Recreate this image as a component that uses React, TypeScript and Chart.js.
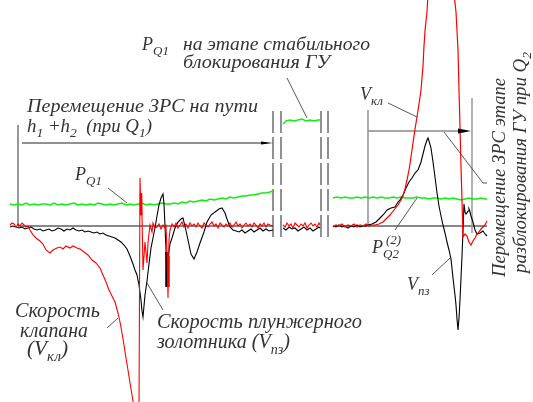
import React, { useEffect, useRef } from "react";
import { Chart, registerables } from "chart.js";
Chart.register(...registerables);

// time (x) vs. signal (y, 0 = rest level)
type Pt = [number, number];

const greenLeft: Pt[] = [[10,22],[14,21],[18,22],[22,21],[26,23],[30,21],[34,22],[38,21],[42,22],[46,22],[50,21],[54,23],[58,21],[62,22],[66,21],[70,22],[74,23],[78,21],[82,22],[86,21],[90,22],[94,21],[98,23],[102,22],[106,21],[110,22],[114,21],[118,22],[122,23],[126,21],[130,22],[134,21],[138,22],[142,23],[146,21],[150,22],[154,21],[158,22],[162,23],[166,22],[170,22],[174,23],[178,22],[182,24],[186,23],[190,25],[194,24],[198,25],[202,26],[206,25],[210,27],[214,26],[218,27],[222,28],[226,27],[230,29],[234,28],[238,29],[242,30],[246,30],[250,31],[254,31],[258,32],[262,33],[266,33],[270,34],[273,35]];
const greenMid: Pt[] = [[283,102],[286,105],[290,106],[294,105],[298,106],[302,107],[306,105],[310,106],[314,105],[318,106],[320,106]];
const greenRight: Pt[] = [[333,28],[337,29],[341,28],[345,29],[349,28],[353,28],[357,29],[361,28],[365,29],[369,28],[373,29],[377,28],[381,29],[385,28],[389,28],[393,29],[397,28],[401,29],[405,28],[409,28],[413,28],[417,29],[421,28],[425,28],[429,27],[433,28],[437,28],[441,27],[445,28],[449,27],[453,28],[457,27],[461,26],[465,27],[469,28],[473,27],[477,27],[481,28],[485,27],[487,27]];

const redLeft: Pt[] = [[10,1],[12,3],[14,2],[16,-1],[18,2],[20,0],[22,3],[24,1],[26,-1],[28,0],[30,-4],[33,-9],[36,-12],[40,-15],[43,-18],[46,-24],[50,-27],[53,-24],[57,-22],[60,-21],[63,-23],[66,-20],[70,-22],[73,-20],[77,-22],[80,-23],[84,-26],[88,-29],[92,-34],[96,-37],[100,-42],[103,-49],[106,-56],[109,-64],[112,-70],[115,-76],[118,-87],[120,-96],[122,-107],[124,-119],[126,-132],[128,-144],[130,-157],[132,-169],[134,-182],[139,-186],[140,48],[141,11],[141.5,33],[142,11],[143,-44],[145,-16],[147,-37],[148,-17],[150,1],[152,-6],[153,3],[155,-2],[157,-1],[159,2],[161,-3],[163,1],[165,-2],[166,0],[167,-25],[168,-72],[169,-14],[170,-4],[172,2],[174,-1],[176,3],[178,-2],[180,1],[182,4],[184,-1],[186,2],[188,-2],[190,3],[192,0],[194,2],[196,-1],[198,3],[200,0],[202,-2],[204,3],[206,1],[208,-1],[210,2],[212,4],[214,0],[216,2],[218,-2],[220,3],[222,1],[224,-1],[226,2],[228,0],[230,3],[232,-1],[234,1],[236,4],[238,0],[240,2],[242,-2],[244,1],[246,3],[248,0],[250,2],[252,-1],[254,3],[256,1],[258,-2],[260,2],[262,0],[264,3],[266,-1],[268,2],[270,1],[273,0]];
const blackLeft: Pt[] = [[10,-1],[13,0],[16,-1],[19,-2],[22,-1],[25,-3],[28,-2],[31,-1],[34,-3],[37,-4],[40,-3],[43,-5],[46,-4],[49,-3],[52,-5],[55,-4],[58,-2],[61,-3],[64,-5],[67,-3],[70,-4],[73,-2],[76,-4],[79,-5],[82,-4],[85,-6],[88,-5],[91,-6],[94,-7],[97,-6],[100,-8],[103,-7],[106,-9],[109,-10],[112,-11],[115,-12],[118,-14],[121,-16],[124,-19],[127,-23],[130,-30],[133,-38],[135,-44],[137,-49],[139,-59],[141,-74],[142,-85],[143,-91],[144,-80],[145,-69],[147,-55],[149,-38],[151,-22],[153,-12],[155,-2],[157,10],[159,21],[161,28],[163,32],[164,22],[165,0],[166,-24],[167,-55],[168,-32],[170,-18],[172,-12],[175,-2],[178,4],[181,7],[183,8],[185,0],[188,-14],[191,-28],[194,-33],[197,-26],[200,-17],[204,-6],[207,4],[211,11],[215,14],[219,17],[222,18],[225,13],[227,7],[230,-1],[233,-4],[236,-5],[239,-6],[242,-4],[245,-7],[248,-5],[251,-3],[254,-6],[257,-4],[260,-2],[263,-5],[266,-3],[269,-5],[273,-4]];
const redMid: Pt[] = [[283,1],[285,-1],[287,3],[289,0],[291,2],[293,-2],[295,3],[297,1],[299,-1],[301,2],[303,0],[305,3],[307,-2],[309,1],[311,3],[313,0],[315,2],[317,-1],[319,3],[320,1]];
const blackMid: Pt[] = [[283,-2],[286,-4],[289,-1],[292,-3],[295,-2],[298,-5],[301,-3],[304,-1],[307,-4],[310,-2],[313,-5],[316,-3],[319,-1],[320,-2]];
const redRight: Pt[] = [[333,-1],[336,1],[339,0],[342,2],[345,-1],[348,1],[351,0],[354,2],[357,-1],[360,1],[363,0],[366,2],[369,0],[372,1],[375,1],[379,2],[383,4],[386,7],[390,11],[394,16],[398,21],[401,26],[403,30],[405,37],[407,46],[409,56],[411,69],[413,83],[415,97],[417,109],[419,122],[421,136],[422,148],[423,160],[424,180],[425,195],[426,205],[427,214],[428,232],[454,232],[456,214],[458,176],[459,136],[460,99],[461,59],[462,26],[463,-11],[465,-8],[467,-10],[469,-16],[471,-19],[473,-15],[475,-12],[477,-8],[479,-6],[481,-3],[483,-1],[485,1],[487,5]];
const blackRight: Pt[] = [[333,0],[336,-1],[339,1],[342,-1],[345,0],[348,-2],[351,0],[354,-1],[357,1],[360,-1],[363,0],[366,0],[368,1],[372,2],[376,4],[380,8],[384,12],[387,16],[391,18],[395,19],[398,24],[400,26],[403,31],[406,38],[409,44],[412,48],[415,53],[418,56],[421,64],[423,72],[425,80],[427,86],[428,88],[429,85],[431,78],[433,64],[435,49],[437,33],[439,20],[441,10],[443,1],[445,-7],[447,-16],[449,-24],[451,-33],[453,-52],[455,-69],[456,-79],[457,-93],[458,-104],[459,-92],[460,-74],[461,-52],[462,-30],[463,-5],[464,22],[465,14],[466,12],[467,13],[468,15],[469,17],[470,14],[471,10],[473,4],[475,-4],[477,-8],[480,-7],[483,-5],[485,-8],[487,-10]];
const redThickA: Pt[] = [[141,33],[141,11]];
const redThickB: Pt[] = [[168.5,-30],[168.5,-61]];
const blackThick: Pt[] = [[166.5,-26],[166.5,-61]];

const T_MIN = 0, T_MAX = 533, V_MIN = -176, V_MAX = 226;

type Run = { t: string; sub?: boolean; sup?: boolean };
const FONT = '"Liberation Serif", serif';

function runsWidth(ctx: CanvasRenderingContext2D, runs: Run[], size: number) {
  let w = 0;
  for (const r of runs) {
    const s = Math.round(r.sub || r.sup ? size * 0.72 : size);
    ctx.font = `italic ${s}px ${FONT}`;
    w += ctx.measureText(r.t).width;
  }
  return w;
}

function drawRuns(ctx: CanvasRenderingContext2D, runs: Run[], x: number, y: number, size: number, width?: number, angle?: number) {
  ctx.save();
  ctx.translate(x, y);
  if (angle) ctx.rotate(angle);
  const nat = runsWidth(ctx, runs, size);
  const sx = width ? width / nat : 1;
  ctx.scale(sx, 1);
  ctx.fillStyle = "#333";
  ctx.textBaseline = "alphabetic";
  ctx.textAlign = "left";
  let cx = 0;
  for (const r of runs) {
    const s = Math.round(r.sub || r.sup ? size * 0.72 : size);
    ctx.font = `italic ${s}px ${FONT}`;
    const dy = r.sub ? size * 0.28 : r.sup ? -size * 0.5 : 0;
    ctx.fillText(r.t, cx, dy);
    cx += ctx.measureText(r.t).width;
  }
  ctx.restore();
}

const ds = (data: Pt[], color: string, width: number, order: number) => ({
  data: data.map(([x, y]) => ({ x, y })),
  borderColor: color,
  borderWidth: width,
  pointRadius: 0,
  tension: 0,
  fill: false,
  order,
});

const overlay = {
  id: "overlay",
  beforeDatasetsDraw(chart: any) {
    const ctx: CanvasRenderingContext2D = chart.ctx;
    const xs = chart.scales.x, ys = chart.scales.y;
    const X = (t: number) => xs.getPixelForValue(t);
    const Y = (v: number) => ys.getPixelForValue(v);
    const line = (a: Pt, b: Pt, color: string, w: number, dash: number[] = []) => {
      ctx.save();
      ctx.strokeStyle = color; ctx.lineWidth = w; ctx.setLineDash(dash);
      ctx.beginPath(); ctx.moveTo(X(a[0]), Y(a[1])); ctx.lineTo(X(b[0]), Y(b[1])); ctx.stroke();
      ctx.restore();
    };
    line([18, 0], [273, 0], "#111", 1);
    line([333, 0], [487, 0], "#111", 1);
    line([18, 101], [18, 0], "#333", 1);
    line([22, 83], [266, 83], "#222", 1);
    for (const t of [273, 281, 321, 328]) line([t, 115], [t, -11], "#222", 1, [22, 4]);
    line([368, 116], [368, 0], "#777", 1.2);
    line([472, 128], [472, -7], "#999", 1.5);
    line([368, 95], [460, 95], "#888", 1.5);
  },
  afterDatasetsDraw(chart: any) {
    const ctx: CanvasRenderingContext2D = chart.ctx;
    const xs = chart.scales.x, ys = chart.scales.y;
    const X = (t: number) => xs.getPixelForValue(t);
    const Y = (v: number) => ys.getPixelForValue(v);
    const poly = (pts: Pt[], color = "#444", w = 0.9) => {
      ctx.save();
      ctx.strokeStyle = color; ctx.lineWidth = w;
      ctx.beginPath();
      pts.forEach((p, i) => (i ? ctx.lineTo(X(p[0]), Y(p[1])) : ctx.moveTo(X(p[0]), Y(p[1]))));
      ctx.stroke();
      ctx.restore();
    };
    const head = (tip: Pt, len: number, half: number) => {
      ctx.save();
      ctx.fillStyle = "#000";
      ctx.beginPath();
      ctx.moveTo(X(tip[0]), Y(tip[1]));
      ctx.lineTo(X(tip[0] - len), Y(tip[1]) - half);
      ctx.lineTo(X(tip[0] - len), Y(tip[1]) + half);
      ctx.closePath(); ctx.fill();
      ctx.restore();
    };
    head([273, 83], 12, 1.6);
    head([471, 95], 13, 2.5);
    poly([[287, 148], [307, 108]]);
    poly([[108, 38], [127, 23]]);
    poly([[107, -102], [118, -92]]);
    poly([[163, -84], [147, -57]]);
    poly([[388, 123], [417, 109]]);
    poly([[444, 94], [483, 43], [487, 43]]);
    poly([[395, -4], [417, 28]]);
    poly([[432, -49], [450, -32]]);

    const L = (runs: Run[], t: number, v: number, size: number, width?: number, angle?: number) => {
      drawRuns(ctx, runs, X(t), Y(v), size, width, angle);
    };
    L([{ t: "P" }, { t: "Q1", sub: true }], 142, 176, 18);
    L([{ t: "на этапе стабильного" }], 183, 176, 18, 187);
    L([{ t: "блокирования ГУ" }], 183, 158, 18, 147);
    L([{ t: "Перемещение ЗРС на пути" }], 27, 114, 18, 231);
    L([{ t: "h" }, { t: "1", sub: true }, { t: " +h" }, { t: "2", sub: true }, { t: "  (при Q" }, { t: "1", sub: true }, { t: ")" }], 27, 94, 18, 125);
    L([{ t: "P" }, { t: "Q1", sub: true }], 75, 46, 18);
    L([{ t: "Скорость" }], 15, -91, 20, 85);
    L([{ t: "клапана" }], 20, -111, 20, 68);
    L([{ t: "(V" }, { t: "кл", sub: true }, { t: ")" }], 27, -129, 20, 41);
    L([{ t: "Скорость плунжерного" }], 157, -102, 20, 205);
    L([{ t: "золотника (V" }, { t: "пз", sub: true }, { t: ")" }], 157, -122, 20, 133);
    L([{ t: "V" }, { t: "кл", sub: true }], 360, 126, 18);
    L([{ t: "P" }, { t: "Q2", sub: true }], 372, -27, 18);
    L([{ t: "(2)", sup: true }], 386, -27, 18);
    L([{ t: "V" }, { t: "пз", sub: true }], 407, -64, 18);
    L([{ t: "Перемещение ЗРС этапе" }], 505, -51, 18, 199, -Math.PI / 2);
    L([{ t: "разблокирования ГУ при Q" }, { t: "2", sub: true }], 526, -47, 18, 221, -Math.PI / 2);
  },
};

export default function App() {
  const ref = useRef<HTMLCanvasElement>(null);
  useEffect(() => {
    if (!ref.current) return;
    const chart = new Chart(ref.current, {
      type: "line",
      data: {
        datasets: [
          ds(greenLeft, "#11ee11", 1.4, 3),
          ds(greenMid, "#11ee11", 1.4, 3),
          ds(greenRight, "#11ee11", 1.4, 3),
          ds(blackLeft, "#000", 1.1, 2),
          ds(blackMid, "#000", 1.1, 2),
          ds(blackRight, "#000", 1.1, 2),
          ds(blackThick, "#000", 2.5, 2),
          ds(redLeft, "#ff0000", 1.1, 1),
          ds(redMid, "#ff0000", 1.1, 1),
          ds(redRight, "#ff0000", 1.2, 1),
          ds(redThickA, "#ff0000", 2.5, 0),
          ds(redThickB, "#ff0000", 2.5, 0),
        ] as any,
      },
      options: {
        responsive: false,
        maintainAspectRatio: false,
        animation: false,
        devicePixelRatio: 1,
        layout: { padding: 0 },
        scales: {
          x: { type: "linear", min: T_MIN, max: T_MAX, display: false },
          y: { type: "linear", min: V_MIN, max: V_MAX, display: false },
        },
        plugins: { legend: { display: false }, tooltip: { enabled: false } },
      },
      plugins: [overlay],
    });
    return () => chart.destroy();
  }, []);
  return (
    <div style={{ position: "absolute", left: 0, top: 0, width: 533, height: 402, background: "#fff" }}>
      <canvas ref={ref} width={533} height={402} />
    </div>
  );
}
